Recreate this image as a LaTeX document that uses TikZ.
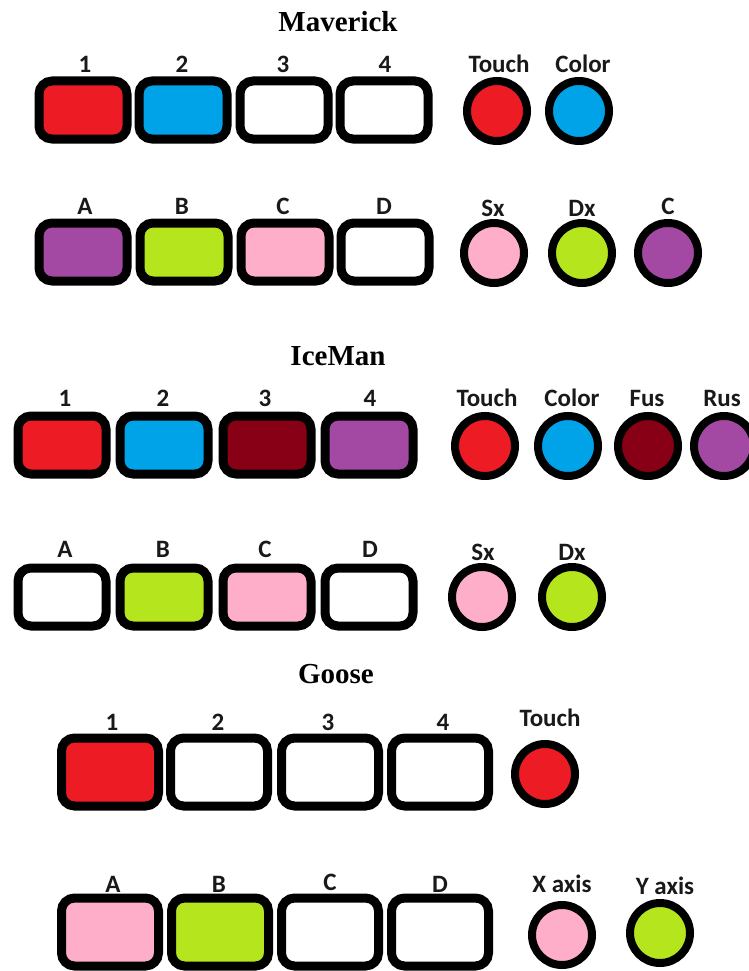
\documentclass[tikz,border=0pt]{standalone}
\usepackage{fontspec}
\setmainfont{Liberation Serif}
\newfontfamily\lblfont{Carlito}
\definecolor{pred}{HTML}{ED1C24}
\definecolor{pblue}{HTML}{00A2E8}
\definecolor{pdark}{HTML}{880015}
\definecolor{ppurple}{HTML}{A349A4}
\definecolor{plime}{HTML}{B5E61D}
\definecolor{ppink}{HTML}{FFAEC9}
\begin{document}
\begin{tikzpicture}[x=1pt,y=-1pt,
  keybox/.style={draw=black,line width=9pt,rounded corners=13pt,minimum width=88pt,minimum height=58pt,inner sep=0pt},
  gkeybox/.style={keybox,minimum width=97pt,minimum height=68pt},
  knob/.style={draw=black,line width=8pt,circle,minimum size=60pt,inner sep=0pt},
  lbl/.style={font=\lblfont\bfseries\fontsize{25}{25}\selectfont,inner sep=0pt,text=black!90},
  ttl/.style={font=\bfseries\fontsize{29}{29}\selectfont,inner sep=0pt}]
\useasboundingbox (0,0) rectangle (748,971);
\fill[white] (0,0) rectangle (748,971);

% ---------- Maverick ----------
\node[ttl] (mtitle) at (338,22) {Maverick};
\node[keybox,fill=pred]   (m1) at (83,110) {};
\node[keybox,fill=pblue]  (m2) at (183,110) {};
\node[keybox,fill=white]  (m3) at (284,110) {};
\node[keybox,fill=white]  (m4) at (384,110) {};
\node[lbl] (lm1) at (85,64) {1};
\node[lbl] (lm2) at (182,64) {2};
\node[lbl] (lm3) at (283,64) {3};
\node[lbl] (lm4) at (385,64) {4};
\node[knob,fill=pred]  (mtouch) at (497,111) {};
\node[knob,fill=pblue] (mcolor) at (579,111) {};
\node[lbl] (lmtouch) at (499,64) {Touch};
\node[lbl] (lmcolor) at (583,64) {Color};

\node[keybox,fill=ppurple] (ma) at (83,252) {};
\node[keybox,fill=plime]   (mb) at (184,252) {};
\node[keybox,fill=ppink]   (mc) at (285,252) {};
\node[keybox,fill=white]   (md) at (385,252) {};
\node[lbl] (lma) at (85,206) {A};
\node[lbl] (lmb) at (182,206) {B};
\node[lbl] (lmc) at (283,206) {C};
\node[lbl] (lmd) at (384,206) {D};
\node[knob,fill=ppink]   (msx) at (494,253) {};
\node[knob,fill=plime]   (mdx) at (582,253) {};
\node[knob,fill=ppurple] (mcc) at (668,253) {};
\node[lbl] (lmsx) at (493,208) {Sx};
\node[lbl] (lmdx) at (582,208) {Dx};
\node[lbl] (lmcc) at (668,206) {C};

% ---------- IceMan ----------
\node[ttl] (ititle) at (338,356) {IceMan};
\node[keybox,fill=pred]    (i1) at (62,445) {};
\node[keybox,fill=pblue]   (i2) at (164,445) {};
\node[keybox,fill=pdark]   (i3) at (267,445) {};
\node[keybox,fill=ppurple] (i4) at (369,445) {};
\node[lbl] (li1) at (65,398) {1};
\node[lbl] (li2) at (163,398) {2};
\node[lbl] (li3) at (265,398) {3};
\node[lbl] (li4) at (370,398) {4};
\node[knob,fill=pred]    (itouch) at (485,446) {};
\node[knob,fill=pblue]   (icolor) at (568,446) {};
\node[knob,fill=pdark]   (ifus)   at (648,446) {};
\node[knob,fill=ppurple] (irus)   at (724,446) {};
\node[lbl] (litouch) at (487,398) {Touch};
\node[lbl] (licolor) at (572,398) {Color};
\node[lbl] (lifus)   at (647,398) {Fus};
\node[lbl] (lirus)   at (722,398) {Rus};

\node[keybox,fill=white] (ia) at (62,597) {};
\node[keybox,fill=plime] (ib) at (164,597) {};
\node[keybox,fill=ppink] (ic) at (267,597) {};
\node[keybox,fill=white] (id) at (369,597) {};
\node[lbl] (lia) at (65,549) {A};
\node[lbl] (lib) at (163,549) {B};
\node[lbl] (lic) at (265,549) {C};
\node[lbl] (lid) at (370,549) {D};
\node[knob,fill=ppink] (isx) at (482,597) {};
\node[knob,fill=plime] (idx) at (572,597) {};
\node[lbl] (lisx) at (483,552) {Sx};
\node[lbl] (lidx) at (572,552) {Dx};

% ---------- Goose ----------
\node[ttl] (gtitle) at (336,674) {Goose};
\node[gkeybox,fill=pred]  (g1) at (110,772) {};
\node[gkeybox,fill=white] (g2) at (219,772) {};
\node[gkeybox,fill=white] (g3) at (330,772) {};
\node[gkeybox,fill=white] (g4) at (440,772) {};
\node[lbl] (lg1) at (112,722) {1};
\node[lbl] (lg2) at (218,722) {2};
\node[lbl] (lg3) at (328,722) {3};
\node[lbl] (lg4) at (443,722) {4};
\node[knob,fill=pred] (gtouch) at (545,774) {};
\node[lbl] (lgtouch) at (550,718) {Touch};

\node[gkeybox,fill=ppink] (ga) at (110,932) {};
\node[gkeybox,fill=plime] (gb) at (220,932) {};
\node[gkeybox,fill=white] (gc) at (330,932) {};
\node[gkeybox,fill=white] (gd) at (440,932) {};
\node[lbl] (lga) at (113,884) {A};
\node[lbl] (lgb) at (219,884) {B};
\node[lbl] (lgc) at (330,882) {C};
\node[lbl] (lgd) at (440,884) {D};
\node[knob,fill=ppink] (gx) at (562,935) {};
\node[knob,fill=plime] (gy) at (660,933) {};
\node[lbl] (lgx) at (562,884) {X axis};
\node[lbl] (lgy) at (665,886) {Y axis};
\end{tikzpicture}
\end{document}
